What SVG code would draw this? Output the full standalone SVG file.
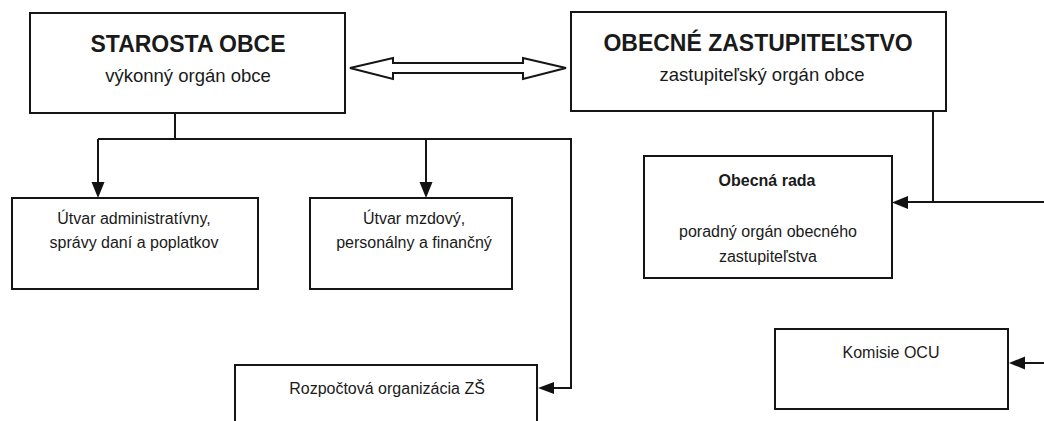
<svg xmlns="http://www.w3.org/2000/svg" width="1044" height="421" viewBox="0 0 1044 421">
<defs>
<style>
.box{fill:#fff;stroke:#151515;stroke-width:2}
.ln{fill:none;stroke:#151515;stroke-width:2}
.ah{fill:#111}
text{font-family:"Liberation Sans",Arial,sans-serif;fill:#1a1a1a;text-anchor:middle}
.title{font-size:23px;font-weight:bold}
.sub{font-size:18.5px}
.body{font-size:16px}
.bold{font-size:16px;font-weight:bold}
</style>
</defs>
<rect width="1044" height="421" fill="#fff"/>
<g id="connectors">
<polygon points="350,68 393,58 393,63 523,63 523,58 566,68 523,79 523,73 393,73 393,79" fill="#fff" stroke="#151515" stroke-width="2" stroke-linejoin="miter"/>
<path class="ln" d="M175,113 V139 M98,139 H571 V388 H552 M98,139 V184 M426,139 V184"/>
<polygon class="ah" points="91.5,182 104.5,182 98,198"/>
<polygon class="ah" points="419.5,182 432.5,182 426,198"/>
<polygon class="ah" points="554,382 554,394 538,388"/>
<path class="ln" d="M933,111 V202 M1044,202 H906"/>
<polygon class="ah" points="908,196 908,209 892,202.5"/>
<path class="ln" d="M1044,363 H1022"/>
<polygon class="ah" points="1025,356.5 1025,369.5 1009,363"/>
</g>
<g id="starosta">
<rect class="box" x="30" y="13" width="315" height="100"/>
<text class="title" x="188" y="52">STAROSTA OBCE</text>
<text class="sub" x="188" y="82">výkonný orgán obce</text>
</g>
<g id="zastupitelstvo">
<rect class="box" x="571" y="12" width="375" height="99"/>
<text class="title" x="758" y="51">OBECNÉ ZASTUPITEĽSTVO</text>
<text class="sub" x="762" y="81">zastupiteľský orgán obce</text>
</g>
<g id="utvar-admin">
<rect class="box" x="12" y="198" width="246" height="91"/>
<text class="body" x="134" y="224">Útvar administratívny,</text>
<text class="body" x="134" y="248">správy daní a poplatkov</text>
</g>
<g id="utvar-mzdovy">
<rect class="box" x="310" y="198" width="202" height="91"/>
<text class="body" x="414" y="224">Útvar mzdový,</text>
<text class="body" x="414" y="248">personálny a finančný</text>
</g>
<g id="obecna-rada">
<rect class="box" x="644" y="156" width="248" height="122"/>
<text class="bold" x="767" y="186">Obecná rada</text>
<text class="body" x="768" y="237">poradný orgán obecného</text>
<text class="body" x="768" y="262">zastupiteľstva</text>
</g>
<g id="komisie">
<rect class="box" x="775" y="329" width="233" height="80"/>
<text class="body" x="891" y="358">Komisie OCU</text>
</g>
<g id="rozpoctova">
<rect class="box" x="235" y="365" width="302" height="70"/>
<text class="body" x="387" y="394">Rozpočtová organizácia ZŠ</text>
</g>
</svg>
